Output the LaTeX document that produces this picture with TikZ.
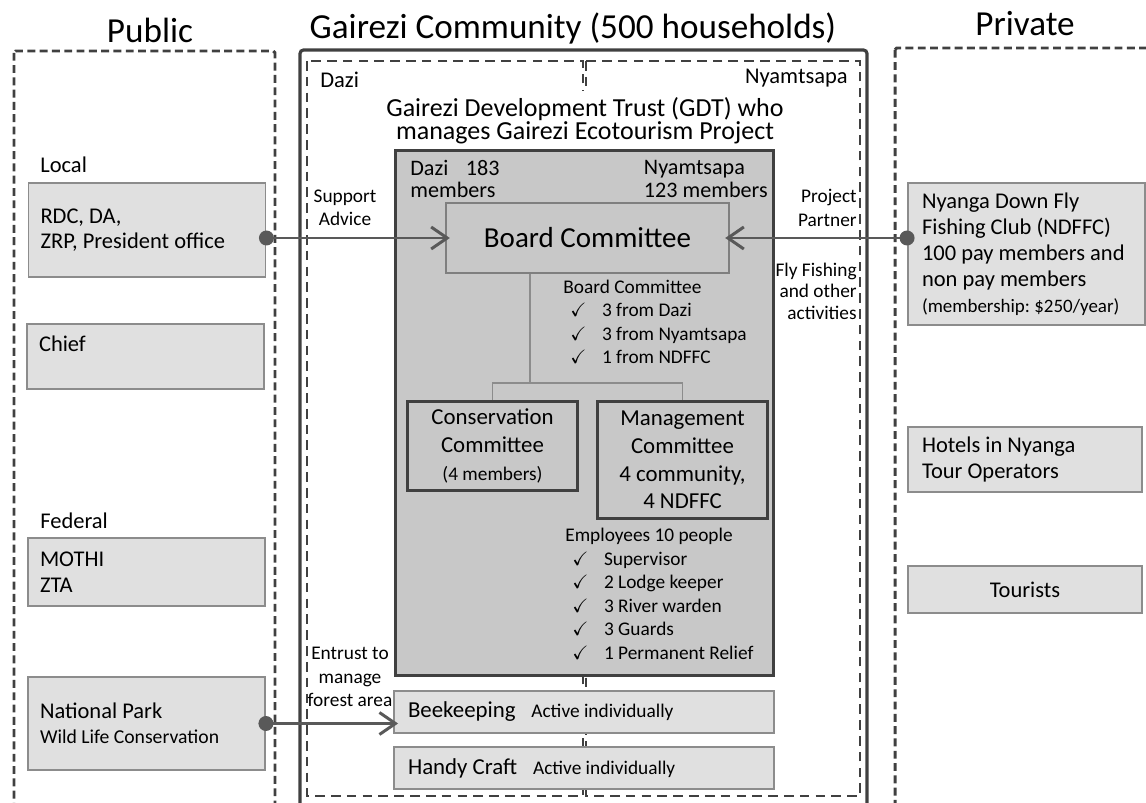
\documentclass[tikz,border=0pt]{standalone}
\usepackage{fontspec}
\setmainfont{Carlito}
\usepackage{amssymb}
\usetikzlibrary{arrows.meta, positioning, calc}

\definecolor{darkline}{RGB}{64,64,64}
\definecolor{midline}{RGB}{127,127,127}
\definecolor{boxline}{RGB}{140,140,140}
\definecolor{lightfill}{RGB}{224,224,224}
\definecolor{gdtfill}{RGB}{200,200,200}
\definecolor{arrowcol}{RGB}{89,89,89}

\newcommand{\tick}{\hspace*{4pt}\makebox[18pt][l]{$\checkmark$}}

\begin{document}
\begin{tikzpicture}[x=0.02cm, y=-0.02cm,
  every node/.style={inner sep=0pt},
  txt/.style={font=\fontsize{12.8}{14.5}\selectfont},
  smalltxt/.style={font=\fontsize{11}{13.4}\selectfont},
  title/.style={font=\fontsize{20}{22}\selectfont},
  region/.style={draw=darkline, line width=1.7pt, dash pattern=on 4.5pt off 2.5pt, rounded corners=1pt},
  subregion/.style={draw=darkline, line width=1pt, dash pattern=on 5.5pt off 3.5pt},
  sidebox/.style={draw=boxline, fill=lightfill, line width=1.1pt, inner xsep=0.24cm, text width=4.26cm, align=flush left, txt},
  gdtbox/.style={draw=darkline, fill=gdtfill, line width=1.7pt},
  boardbox/.style={draw=midline, fill=gdtfill, line width=1.4pt, font=\fontsize{16.5}{19}\selectfont},
  cmtbox/.style={draw=darkline, fill=gdtfill, line width=1.7pt, minimum width=3.42cm, align=center, font=\fontsize{13}{15.8}\selectfont},
  actbox/.style={draw=boxline, fill=lightfill, line width=1.1pt, minimum height=0.84cm, inner xsep=0.28cm, text width=7.04cm, align=flush left, smalltxt},
  link/.style={draw=arrowcol, line width=1.7pt, -{Straight Barb[length=3.2mm,width=4.4mm]}, shorten >=-0.1cm},
  tree/.style={draw=boxline, line width=0.8pt}]
\useasboundingbox (0,0) rectangle (1146,803);

% headings
\node[title] (tpublic) at (150,30) {Public};
\node[title] (tcomm) at (573,28) {Gairezi Community (500 households)};
\node[title] (tprivate) at (1025,24) {Private};

% areas
\draw[region] (14,51) rectangle (275,830);
\draw[darkline, line width=1.8pt, rounded corners=2pt] (300,50) rectangle (867,830);
\draw[subregion] (307,61) rectangle (583,796);
\draw[subregion] (586,61) rectangle (860,796);
\draw[region] (895,48) rectangle (1170,830);

\node[txt, anchor=west] (dazilbl) at (320,80) {Dazi};
\node[txt, anchor=east] (nyamlbl) at (848,78) {Nyamtsapa};
\node[fill=white, inner xsep=2pt, inner ysep=4pt, font=\fontsize{14.8}{13.2}\selectfont, align=center] (gdttitle) at (585,121) {Gairezi Development Trust (GDT) who\\manages Gairezi Ecotourism Project};

% trust
\node[gdtbox, minimum width=7.58cm, minimum height=10.52cm] (gdt) at (584.5,413) {};
\node[anchor=west, align=left, font=\fontsize{12.6}{12.6}\selectfont] (dazimem) at (410,179) {Dazi\hspace{10pt}183\\members};
\node[anchor=east, align=left, font=\fontsize{12.6}{12.6}\selectfont] (nyammem) at (768,179) {Nyamtsapa\\123 members};
\node[boardbox, minimum width=5.66cm, minimum height=1.4cm] (board) at (587.5,238) {Board Committee};

\node[smalltxt, anchor=west, align=left] (boardlist) at (563,322) {Board Committee\\\tick 3 from Dazi\\\tick 3 from Nyamtsapa\\\tick 1 from NDFFC};

\node[cmtbox, minimum height=1.8cm] (cons) at (492.5,446) {Conservation\\Committee\\{\fontsize{11}{13}\selectfont (4 members)}};
\node[cmtbox, minimum height=2.36cm] (mgmt) at (682.5,460) {Management\\Committee\\4 community,\\4 NDFFC};

\coordinate (split) at (530,383);
\draw[tree] (board.south -| split) -- (split);
\draw[tree] (cons.north) |- (split) -| (mgmt.north);

\node[smalltxt, anchor=west, align=left] (emplist) at (565,594) {Employees 10 people\\\tick Supervisor\\\tick 2 Lodge keeper\\\tick 3 River warden\\\tick 3 Guards\\\tick 1 Permanent Relief};

\node[actbox] (bee) at (584,712) {{\fontsize{13}{15}\selectfont Beekeeping}\hspace{9pt}Active individually};
\node[actbox] (handy) at (584,768) {{\fontsize{13}{15}\selectfont Handy Craft}\hspace{9pt}Active individually};

% public side
\node[txt, anchor=west] (local) at (40,165) {Local};
\node[sidebox, minimum height=1.88cm] (rdc) at (147,230) {RDC, DA,\\ZRP, President office};
\node[sidebox, minimum height=1.3cm] (chief) at (145.5,356.5) {Chief\\ \mbox{}};
\node[txt, anchor=west] (federal) at (40,521) {Federal};
\node[sidebox, minimum height=1.36cm] (mothi) at (146.5,572) {MOTHI\\ZTA};
\node[sidebox, minimum height=1.86cm] (natpark) at (146.5,723.5) {National Park\\{\fontsize{11.2}{13}\selectfont Wild Life Conservation}};

% private side
\node[sidebox, text width=4.18cm, inner xsep=0.28cm, minimum height=2.84cm, font=\fontsize{12.8}{14.8}\selectfont] (ndffc) at (1026.5,254) {Nyanga Down Fly\\Fishing Club (NDFFC)\\100 pay members and\\non pay members\\{\fontsize{10.8}{13}\selectfont (membership:\ \$250/year)}};
\node[sidebox, text width=4.12cm, inner xsep=0.28cm, minimum height=1.3cm] (hotels) at (1025,459.5) {Hotels in Nyanga\\Tour Operators};
\node[sidebox, text width=4.12cm, inner xsep=0.28cm, minimum height=0.94cm, align=center] (tourists) at (1025,589.5) {Tourists};

% relation labels
\node[smalltxt, align=center] (support) at (345,208) {Support\\Advice};
\node[smalltxt, anchor=east, align=right] (partner) at (857,208) {Project\\Partner};
\node[smalltxt, anchor=east, align=right, font=\fontsize{11}{12.2}\selectfont] (flyfish) at (857,291) {Fly Fishing\\and other\\activities};
\node[smalltxt, align=center] (entrust) at (350,677) {Entrust to\\manage\\forest area};

% connectors
\draw[link] (rdc.east |- board.west) -- (board.west);
\fill[arrowcol] (rdc.east |- board.west) circle[radius=0.15cm];
\draw[link] (ndffc.west |- board.east) -- (board.east);
\fill[arrowcol] (ndffc.west |- board.east) circle[radius=0.15cm];
\draw[link] (natpark.east) -- (natpark.east -| bee.west);
\fill[arrowcol] (natpark.east) circle[radius=0.15cm];
\end{tikzpicture}
\end{document}
